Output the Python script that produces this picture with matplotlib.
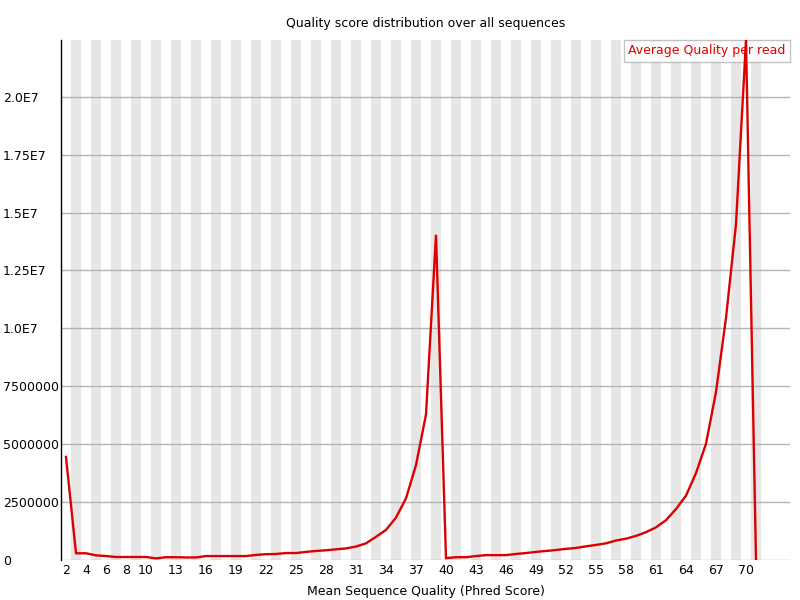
import matplotlib
matplotlib.use("Agg")
import matplotlib.pyplot as plt
from matplotlib.ticker import FixedLocator

quality = list(range(2, 72))
counts = [
    4.45e6, 0.29e6, 0.29e6, 0.20e6, 0.17e6, 0.13e6, 0.13e6, 0.13e6, 0.13e6, 0.07e6,
    0.12e6, 0.12e6, 0.11e6, 0.11e6, 0.17e6, 0.17e6, 0.17e6, 0.17e6, 0.17e6, 0.22e6,
    0.25e6, 0.26e6, 0.30e6, 0.30e6, 0.35e6, 0.39e6, 0.42e6, 0.46e6, 0.50e6, 0.58e6,
    0.72e6, 1.00e6, 1.30e6, 1.83e6, 2.66e6, 4.10e6, 6.28e6, 1.404e7, 0.08e6, 0.12e6,
    0.12e6, 0.17e6, 0.21e6, 0.21e6, 0.21e6, 0.26e6, 0.30e6, 0.35e6, 0.39e6, 0.43e6,
    0.48e6, 0.52e6, 0.59e6, 0.65e6, 0.72e6, 0.84e6, 0.92e6, 1.04e6, 1.20e6, 1.41e6,
    1.72e6, 2.20e6, 2.78e6, 3.75e6, 5.02e6, 7.25e6, 1.045e7, 1.45e7, 2.245e7, 0.0,
]
xtick_values = [2, 4, 6, 8, 10, 13, 16, 19, 22, 25, 28, 31, 34, 37, 40, 43, 46,
                49, 52, 55, 58, 61, 64, 67, 70]
ytick_values = [0, 2.5e6, 5.0e6, 7.5e6, 1.0e7, 1.25e7, 1.5e7, 1.75e7, 2.0e7]
ytick_labels = ["0", "2500000", "5000000", "7500000", "1.0E7", "1.25E7",
                "1.5E7", "1.75E7", "2.0E7"]
title = "Quality score distribution over all sequences"
xlabel = "Mean Sequence Quality (Phred Score)"
series_name = "Average Quality per read"

plt.rcParams['font.family'] = ['DejaVu Sans']
fig = plt.figure(figsize=(8, 6), dpi=100)
L, R, B, T = 61 / 800, 790 / 800, 40 / 600, 560 / 600
ax = fig.add_axes([L, B, R - L, T - B])

ymax = max(counts)
ax.set_xlim(quality[0] - 0.5, quality[0] - 0.5 + (790 - 61) / 10)
ax.set_ylim(0, ymax)

# alternating stripes
for i, q in enumerate(quality):
    if i % 2 == 1:
        ax.axvspan(q - 0.5, q + 0.5, color=(230/255, 230/255, 230/255), lw=0, zorder=0)

# horizontal grid lines
for v in ytick_values:
    ax.axhline(v, color=(180/255, 180/255, 180/255), lw=1.0, zorder=1)

line, = ax.plot(quality, counts, color=(220/255, 0, 0), lw=1.7, zorder=3,
                solid_joinstyle='miter')

for s in ['top', 'right', 'bottom']:
    ax.spines[s].set_visible(False)
ax.spines['left'].set_color('black')
ax.spines['left'].set_linewidth(1.0)

ax.xaxis.set_major_locator(FixedLocator(xtick_values))
ax.set_xticklabels([str(v) for v in xtick_values], fontsize=9)
ax.tick_params(axis='x', length=0, pad=3)
ax.yaxis.set_major_locator(FixedLocator(ytick_values))
ax.set_yticklabels(ytick_labels, fontsize=9, ha='left')
ax.tick_params(axis='y', length=0, pad=58 * 0.72)

ax.set_xlabel(xlabel, fontsize=9, labelpad=5.5)
fig.text((L + R) / 2, 1 - 24 / 600, title, ha='center', va='center', fontsize=9)

leg = ax.legend([line], [series_name], loc='upper right',
                handlelength=0, handletextpad=0, fontsize=9,
                frameon=True, fancybox=False, borderpad=0.35,
                borderaxespad=0.0, labelcolor=(220/255, 0, 0))
leg.get_frame().set_edgecolor((180/255, 180/255, 180/255))
leg.get_frame().set_linewidth(1.0)
leg.set_zorder(2)
for h in leg.legend_handles:
    h.set_visible(False)

fig.savefig("out.png", dpi=100)
